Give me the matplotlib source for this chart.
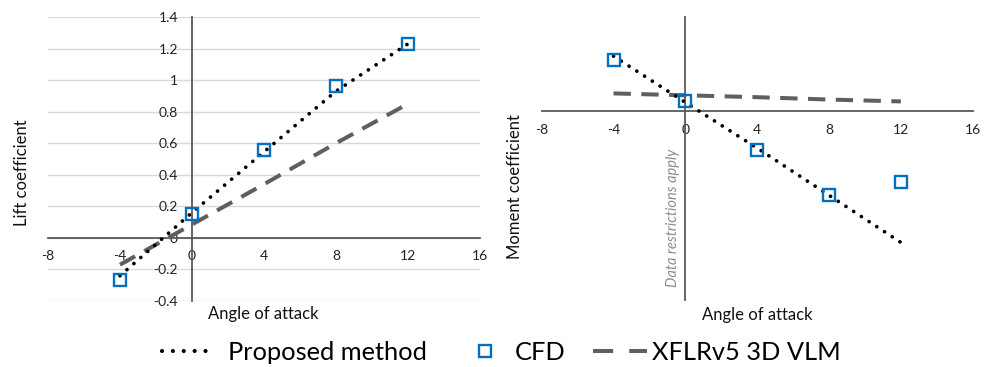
import matplotlib
matplotlib.use("Agg")
import matplotlib.pyplot as plt
from matplotlib.lines import Line2D

plt.rcParams['font.family'] = ['Lato', 'DejaVu Sans']

# ---- data ----
alpha = [-4, 0, 4, 8, 12]

cl_proposed = [-0.24, 0.16, 0.545, 0.93, 1.23]
cl_cfd = [-0.27, 0.15, 0.56, 0.96, 1.23]
cl_xflr = [-0.17, 0.085, 0.34, 0.60, 0.85]

cm_proposed = [0.117, 0.019, -0.078, -0.178, -0.278]
cm_cfd = [0.108, 0.021, -0.083, -0.178, -0.150]
cm_xflr = [0.038, 0.034, 0.030, 0.025, 0.021]

xticks = [-8, -4, 0, 4, 8, 12, 16]
xtick_labels = ['-8', '-4', '0', '4', '8', '12', '16']
cl_yticks = [-0.4, -0.2, 0, 0.2, 0.4, 0.6, 0.8, 1.0, 1.2, 1.4]
cl_ytick_labels = ['-0.4', '-0.2', '0', '0.2', '0.4', '0.6', '0.8', '1', '1.2', '1.4']

labels = ['Proposed method', 'CFD', 'XFLRv5 3D VLM']

# ---- styles ----
W, H = 992, 367
AXC = '#595959'
BLUE = '#0070C0'
DASHC = '#5f5f5f'
dot_style = dict(color='black', linewidth=2.7, linestyle=(0, (0.01, 2.45)),
                 dash_capstyle='round')
dash_style = dict(color=DASHC, linewidth=2.9, linestyle=(0, (4.3, 2.6)),
                  dash_capstyle='butt')
cfd_style = dict(linestyle='none', marker='s', markersize=8.5,
                 markerfacecolor='none', markeredgecolor=BLUE,
                 markeredgewidth=1.7)
leg_dot_style = dict(color='black', linewidth=3.0, linestyle=(0, (0.01, 2.6)),
                     dash_capstyle='round')
leg_dash_style = dict(color=DASHC, linewidth=2.9, linestyle=(0, (5.0, 4.0)),
                      dash_capstyle='butt')

fig = plt.figure(figsize=(W / 100, H / 100), dpi=100)


def px_axes(x0, x1, y0, y1):
    return fig.add_axes([x0 / W, 1 - y1 / H, (x1 - x0) / W, (y1 - y0) / H])


def style_axes(ax):
    for s in ['top', 'right']:
        ax.spines[s].set_visible(False)
    ax.spines['left'].set_position(('data', 0))
    ax.spines['bottom'].set_position(('data', 0))
    for s in ['left', 'bottom']:
        ax.spines[s].set_color(AXC)
        ax.spines[s].set_linewidth(1.3)
    ax.set_xlim(-8, 16)
    ax.set_xticks(xticks)
    ax.set_xticklabels(xtick_labels)
    ax.tick_params(axis='x', length=0, pad=9, labelsize=10, labelcolor='#222222')
    ax.tick_params(axis='y', length=0, pad=10, labelsize=10, labelcolor='#222222')
    ax.patch.set_alpha(0)


# ---- left: lift coefficient ----
ax1 = px_axes(48, 480, 17, 301)
style_axes(ax1)
ax1.set_ylim(-0.4, 1.4)
ax1.set_yticks(cl_yticks)
ax1.set_yticklabels(cl_ytick_labels)
ax1.yaxis.grid(True, color='#d9d9d9', linewidth=1.0)
ax1.set_axisbelow(True)
ax1.plot(alpha, cl_xflr, **dash_style, zorder=3)
ax1.plot(alpha, cl_proposed, **dot_style, zorder=4)
ax1.plot(alpha, cl_cfd, **cfd_style, zorder=5)

# ---- right: moment coefficient ----
ax2 = px_axes(541.7, 972.7, 17, 300)
style_axes(ax2)
ax2.set_ylim(-0.4, 0.2)
ax2.set_yticks([])
ax2.plot(alpha, cm_xflr, **dash_style, zorder=3)
ax2.plot(alpha, cm_proposed, **dot_style, zorder=4)
ax2.plot(alpha, cm_cfd, **cfd_style, zorder=5)

# ---- axis titles ----
fig.text(22 / W, 1 - 173 / H, 'Lift coefficient', rotation=90, ha='center',
         va='center', fontsize=12, color='#111111')
fig.text(263 / W, 1 - 314 / H, 'Angle of attack', ha='center', va='center',
         fontsize=12, color='#111111')
fig.text(515 / W, 1 - 187 / H, 'Moment coefficient', rotation=90, ha='center',
         va='center', fontsize=12, color='#111111')
fig.text(757 / W, 1 - 315 / H, 'Angle of attack', ha='center', va='center',
         fontsize=12, color='#111111')
fig.text(673 / W, 1 - 218 / H, 'Data restrictions apply', rotation=90,
         ha='center', va='center', fontsize=10.5, style='italic', color='#8c8c8c')

# ---- legend (one entry each, placed like the reference) ----
LFS = 18.3
fpx = LFS * 100 / 72.0
legend_items = [
    (Line2D([], [], **leg_dot_style), labels[0], 162, 48, 18),
    (Line2D([], [], **cfd_style), labels[1], 472, 26, 17),
    (Line2D([], [], **leg_dash_style), labels[2], 593, 54, 5),
]
for h, lab, x0, hlen, gap in legend_items:
    fig.legend([h], [lab], loc='center left',
               bbox_to_anchor=(x0 / W, 1 - 352 / H), frameon=False,
               fontsize=LFS, handlelength=hlen / fpx, handletextpad=gap / fpx,
               borderpad=0, borderaxespad=0)

fig.savefig('out.png', dpi=100)
